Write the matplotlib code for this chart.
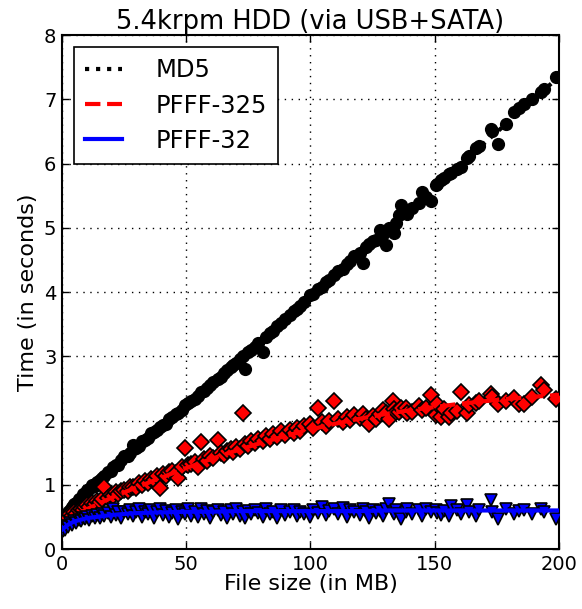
import numpy as np
import matplotlib
matplotlib.use('Agg')
import matplotlib.pyplot as plt

# file sizes (MB), shared by all three methods
sizes = [0.3, 0.8, 1.2, 1.9, 2.6, 3.4, 4.1, 5.0, 5.8, 6.7,
         7.5, 8.4, 9.3, 10.1, 11.0, 12.2, 13.1, 14.0, 15.2, 16.3,
         17.1, 18.4, 19.6, 20.5, 21.8, 22.7, 23.9, 25.1, 26.4, 27.3,
         28.5, 29.8, 31.0, 32.2, 33.5, 34.6, 35.9, 37.2, 38.1, 39.4,
         40.6, 41.9, 43.2, 44.3, 45.7, 46.8, 48.2, 49.5, 50.6, 51.9,
         53.4, 54.6, 55.8, 57.1, 58.2, 59.6, 60.9, 62.7, 63.8, 65.2,
         66.5, 67.9, 68.7, 70.1, 71.6, 73.0, 73.5, 74.8, 76.2, 77.5,
         78.7, 80.7, 82.1, 83.6, 85.0, 86.7, 88.3, 89.8, 91.6, 93.2,
         94.5, 95.6, 97.4, 99.6, 101.2, 103.0, 104.7, 106.1, 107.6, 109.5,
         111.0, 112.9, 114.6, 116.0, 117.7, 119.8, 121.1, 122.5, 123.7, 125.0,
         126.5, 128.0, 129.0, 130.5, 131.7, 133.0, 133.7, 134.5, 135.7, 136.5,
         138.5, 139.0, 141.0, 143.8, 145.0, 146.6, 148.6, 150.6, 151.0, 152.6,
         153.8, 155.8, 156.6, 159.0, 160.6, 163.0, 163.9, 166.7, 168.0, 172.7,
         173.0, 175.5, 178.7, 182.0, 184.0, 186.0, 189.0, 192.8, 194.0, 198.8]

# measured times (s)
md5 = [0.42, 0.50, 0.47, 0.55, 0.58, 0.60, 0.66, 0.70, 0.72, 0.78,
       0.80, 0.86, 0.85, 0.92, 0.93, 0.99, 0.98, 1.05, 1.08, 1.10,
       1.13, 1.20, 1.22, 1.27, 1.30, 1.31, 1.38, 1.44, 1.45, 1.50,
       1.62, 1.57, 1.60, 1.68, 1.70, 1.73, 1.80, 1.82, 1.86, 1.90,
       1.93, 1.95, 2.02, 2.05, 2.10, 2.12, 2.16, 2.24, 2.28, 2.30,
       2.33, 2.38, 2.44, 2.46, 2.50, 2.56, 2.60, 2.64, 2.68, 2.74,
       2.78, 2.83, 2.86, 2.90, 2.95, 3.00, 2.80, 3.06, 3.10, 3.15,
       3.20, 3.06, 3.30, 3.36, 3.40, 3.47, 3.52, 3.58, 3.64, 3.70,
       3.74, 3.78, 3.85, 3.95, 3.97, 4.04, 4.08, 4.15, 4.19, 4.27,
       4.32, 4.36, 4.44, 4.49, 4.56, 4.61, 4.45, 4.70, 4.75, 4.79,
       4.81, 4.96, 4.90, 4.73, 5.00, 4.95, 4.92, 5.07, 5.20, 5.35,
       5.25, 5.22, 5.30, 5.38, 5.56, 5.48, 5.42, 5.66, 5.68, 5.74,
       5.77, 5.84, 5.86, 5.92, 5.95, 6.08, 6.11, 6.24, 6.28, 6.54,
       6.50, 6.31, 6.61, 6.80, 6.86, 6.92, 7.00, 7.12, 7.16, 7.35]

pfff325 = [0.42, 0.48, 0.45, 0.52, 0.49, 0.55, 0.51, 0.57, 0.55, 0.60,
           0.62, 0.60, 0.66, 0.69, 0.65, 0.72, 0.70, 0.75, 0.73, 0.78,
           0.97, 0.79, 0.84, 0.82, 0.88, 0.85, 0.90, 0.92, 0.90, 0.96,
           0.97, 0.95, 1.02, 1.00, 1.06, 1.03, 1.09, 1.07, 1.13, 0.95,
           1.16, 1.13, 1.20, 1.22, 1.19, 1.10, 1.27, 1.57, 1.30, 1.33,
           1.35, 1.28, 1.67, 1.40, 1.37, 1.44, 1.42, 1.70, 1.49, 1.47,
           1.53, 1.56, 1.51, 1.59, 1.56, 2.11, 1.63, 1.60, 1.68, 1.65,
           1.71, 1.68, 1.76, 1.72, 1.79, 1.74, 1.83, 1.78, 1.86, 1.81,
           1.88, 1.83, 1.92, 1.95, 1.88, 2.19, 1.97, 1.92, 2.00, 2.31,
           2.03, 1.97, 2.06, 2.01, 2.09, 2.04, 2.10, 2.02, 1.95, 2.07,
           2.03, 2.10, 2.16, 2.12, 2.03, 2.30, 2.18, 2.13, 2.14, 2.20,
           2.19, 2.12, 2.14, 2.22, 2.17, 2.19, 2.40, 2.08, 2.25, 2.05,
           2.18, 2.06, 2.12, 2.15, 2.45, 2.11, 2.24, 2.28, 2.31, 2.42,
           2.36, 2.25, 2.30, 2.35, 2.25, 2.25, 2.37, 2.56, 2.47, 2.33]

pfff32 = [0.28, 0.33, 0.30, 0.36, 0.34, 0.40, 0.38, 0.43, 0.41, 0.45,
          0.44, 0.48, 0.46, 0.50, 0.45, 0.52, 0.48, 0.53, 0.49, 0.55,
          0.51, 0.56, 0.50, 0.62, 0.53, 0.57, 0.49, 0.58, 0.54, 0.60,
          0.52, 0.57, 0.63, 0.50, 0.58, 0.54, 0.60, 0.48, 0.57, 0.62,
          0.53, 0.59, 0.50, 0.56, 0.61, 0.47, 0.58, 0.55, 0.62, 0.52,
          0.58, 0.50, 0.63, 0.55, 0.59, 0.48, 0.57, 0.61, 0.53, 0.58,
          0.49, 0.60, 0.55, 0.63, 0.52, 0.57, 0.48, 0.59, 0.54, 0.61,
          0.56, 0.50, 0.62, 0.55, 0.58, 0.49, 0.61, 0.53, 0.57, 0.60,
          0.52, 0.58, 0.55, 0.50, 0.61, 0.56, 0.66, 0.53, 0.59, 0.62,
          0.55, 0.64, 0.50, 0.60, 0.57, 0.53, 0.62, 0.58, 0.48, 0.61,
          0.56, 0.59, 0.52, 0.63, 0.70, 0.57, 0.54, 0.60, 0.55, 0.47,
          0.58, 0.62, 0.55, 0.60, 0.52, 0.63, 0.57, 0.60, 0.56, 0.53,
          0.59, 0.52, 0.67, 0.61, 0.55, 0.69, 0.58, 0.51, 0.60, 0.77,
          0.57, 0.47, 0.62, 0.55, 0.59, 0.61, 0.54, 0.63, 0.58, 0.47]

# fitted curves
fit_x = [0, 2.5, 5, 10, 20, 30, 40, 50, 60, 70, 80, 90, 100, 110, 120,
         130, 140, 150, 160, 170, 180, 190, 200]
md5_fit = [0.45, 0.54, 0.62, 0.80, 1.14, 1.49, 1.83, 2.18, 2.52, 2.87, 3.21,
           3.56, 3.90, 4.25, 4.59, 4.94, 5.28, 5.63, 5.97, 6.32, 6.66, 7.01, 7.35]
pfff325_fit = [0.42, 0.47, 0.52, 0.62, 0.80, 0.96, 1.11, 1.26, 1.40, 1.53, 1.65,
               1.76, 1.86, 1.95, 2.03, 2.10, 2.16, 2.21, 2.26, 2.30, 2.34, 2.37, 2.40]
pfff32_fit = [0.30, 0.38, 0.43, 0.48, 0.53, 0.56, 0.57, 0.58, 0.58, 0.59, 0.59,
              0.59, 0.59, 0.59, 0.59, 0.60, 0.60, 0.60, 0.60, 0.60, 0.60, 0.60, 0.60]

plt.rcParams['xtick.direction'] = 'in'
plt.rcParams['ytick.direction'] = 'in'
plt.rcParams['xtick.top'] = True
plt.rcParams['ytick.right'] = True

fig = plt.figure(figsize=(5.82, 6.09), dpi=100)
ax = fig.add_axes([0.1065, 0.0985, 0.854, 0.844])

ax.plot(sizes, md5, 'o', color='k', mec='k', ms=8.5, mew=1, zorder=2)
ax.plot(fit_x, md5_fit, ':', color='k', lw=3, label='MD5', zorder=3)
ax.plot(sizes, pfff325, 'D', color='r', mec='k', ms=8, mew=1.2, zorder=4)
ax.plot(fit_x, pfff325_fit, '--', color='r', lw=3, label='PFFF-325', zorder=5)
ax.plot(sizes, pfff32, 'v', color='b', mec='k', ms=9, mew=1.2, zorder=6)
ax.plot(fit_x, pfff32_fit, '-', color='b', lw=3, label='PFFF-32', zorder=7)

ax.set_xlim(0, 200)
ax.set_ylim(0, 8)
ax.set_xticks([0, 50, 100, 150, 200])
ax.set_yticks(range(0, 9))
ax.grid(True, color='k', linestyle=(0, (1, 4)), linewidth=1)
ax.tick_params(labelsize=14, length=5, width=1, pad=4)
for s in ax.spines.values():
    s.set_linewidth(1.5)

ax.set_title('5.4krpm HDD (via USB+SATA)', fontsize=18.5, pad=4)
ax.set_xlabel('File size (in MB)', fontsize=16, labelpad=0)
ax.set_ylabel('Time (in seconds)', fontsize=16, labelpad=4)

leg = ax.legend(loc='upper left', fontsize=17.5, fancybox=False, framealpha=1,
                handlelength=1.5, borderpad=0.45, labelspacing=0.47,
                borderaxespad=0.5, handletextpad=1.4)
leg.get_frame().set_edgecolor('k')
leg.get_frame().set_linewidth(1.2)

plt.savefig('out.png', dpi=100)
